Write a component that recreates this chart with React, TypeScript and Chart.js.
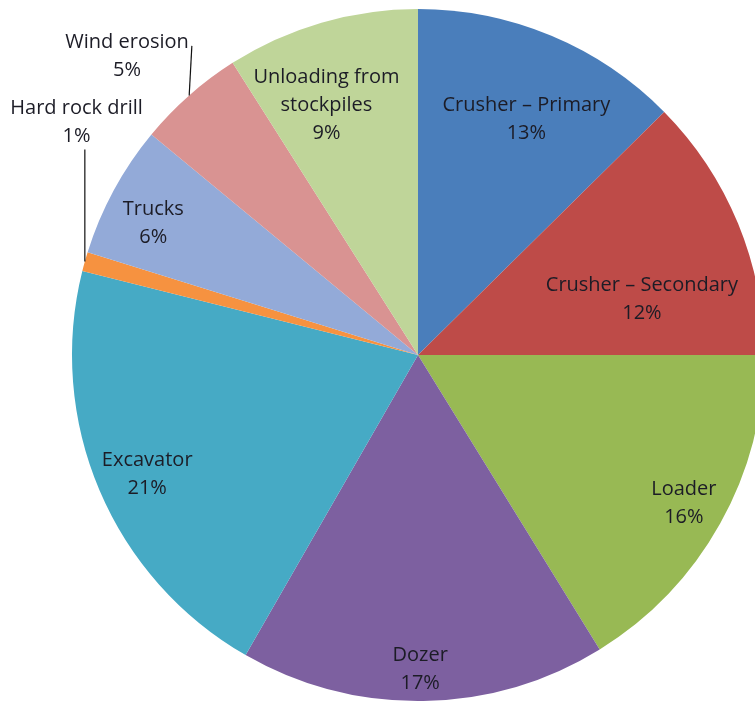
import React, { useEffect, useRef } from "react";
import { Chart, registerables } from "chart.js";

Chart.register(...registerables);

const categories: string[][] = [
  ["Crusher – Primary"],
  ["Crusher – Secondary"],
  ["Loader"],
  ["Dozer"],
  ["Excavator"],
  ["Hard rock drill"],
  ["Trucks"],
  ["Wind erosion"],
  ["Unloading from", "stockpiles"],
];
const values: number[] = [12.6, 12.4, 16.2, 17.1, 20.6, 0.9, 6.2, 5.0, 9.0];
const percentLabels: string[] = ["13%", "12%", "16%", "17%", "21%", "1%", "6%", "5%", "9%"];
const colors: string[] = [
  "#4A7EBB",
  "#BE4B48",
  "#98B954",
  "#7D60A0",
  "#46AAC5",
  "#F69240",
  "#93AAD8",
  "#D99392",
  "#BFD599",
];

// label placement style: angular tweak (deg), radius fraction, leader type
const labelPlacement = [
  { dAngle: 2, frac: 0.75, leader: "" },
  { dAngle: 8.3, frac: 0.667, leader: "" },
  { dAngle: 0, frac: 0.88, leader: "" },
  { dAngle: 0.5, frac: 0.908, leader: "" },
  { dAngle: -0.7, frac: 0.855, leader: "" },
  { dAngle: 18.6, frac: 1.194, leader: "bottom" },
  { dAngle: -1.9, frac: 0.855, leader: "" },
  { dAngle: -2.8, frac: 1.206, leader: "right" },
  { dAngle: -3.9, frac: 0.77, leader: "" },
];

const FONT = "20px 'Open Sans', Lato, sans-serif";
const LINE_H = 28;

const labelPlugin = {
  id: "pieLabels",
  afterDatasetsDraw(chart: any) {
    const ctx = chart.ctx as CanvasRenderingContext2D;
    const meta = chart.getDatasetMeta(0);
    ctx.save();
    ctx.font = FONT;
    ctx.textAlign = "center";
    ctx.textBaseline = "middle";
    meta.data.forEach((arc: any, i: number) => {
      const p = arc.getProps(["x", "y", "startAngle", "endAngle", "outerRadius"], true);
      const mid = (p.startAngle + p.endAngle) / 2;
      const cfg = labelPlacement[i];
      const a = mid + (cfg.dAngle * Math.PI) / 180;
      const cx = p.x + Math.cos(a) * p.outerRadius * cfg.frac;
      const cy = p.y + Math.sin(a) * p.outerRadius * cfg.frac;
      const lines = [...categories[i], percentLabels[i]];
      const top = cy - ((lines.length - 1) * LINE_H) / 2;
      ctx.fillStyle = "#1c1c26";
      lines.forEach((t, k) => ctx.fillText(t, cx, top + k * LINE_H));
      if (cfg.leader) {
        const ex = p.x + Math.cos(mid) * p.outerRadius;
        const ey = p.y + Math.sin(mid) * p.outerRadius;
        let sx = ex;
        let sy = ey;
        if (cfg.leader === "right") {
          const w = ctx.measureText(lines[0]).width;
          sx = cx + w / 2 + 3;
          sy = top + 4;
        } else {
          sx = ex;
          sy = top + (lines.length - 1) * LINE_H + 13;
        }
        ctx.strokeStyle = "#111";
        ctx.lineWidth = 1.2;
        ctx.beginPath();
        ctx.moveTo(sx, sy);
        ctx.lineTo(ex, ey);
        ctx.stroke();
      }
    });
    ctx.restore();
  },
};

export default function App() {
  const ref = useRef<HTMLCanvasElement>(null);
  useEffect(() => {
    if (!ref.current) return;
    const chart = new Chart(ref.current, {
      type: "pie",
      data: {
        labels: categories.map((c) => c.join(" ")),
        datasets: [
          {
            data: values,
            backgroundColor: colors,
            borderWidth: 0,
          },
        ],
      },
      options: {
        responsive: false,
        animation: false,
        devicePixelRatio: 1,
        layout: { padding: { left: 72, top: 9, right: 26, bottom: 19 } },
        plugins: {
          legend: { display: false },
          tooltip: { enabled: false },
        },
      },
      plugins: [labelPlugin],
    });
    return () => chart.destroy();
  }, []);
  return (
    <div
      style={{
        position: "fixed",
        left: 0,
        top: 0,
        width: 755,
        height: 701,
        overflow: "hidden",
        background: "#fff",
      }}
    >
      <canvas ref={ref} width={790} height={720} style={{ width: 790, height: 720, display: "block" }} />
    </div>
  );
}
